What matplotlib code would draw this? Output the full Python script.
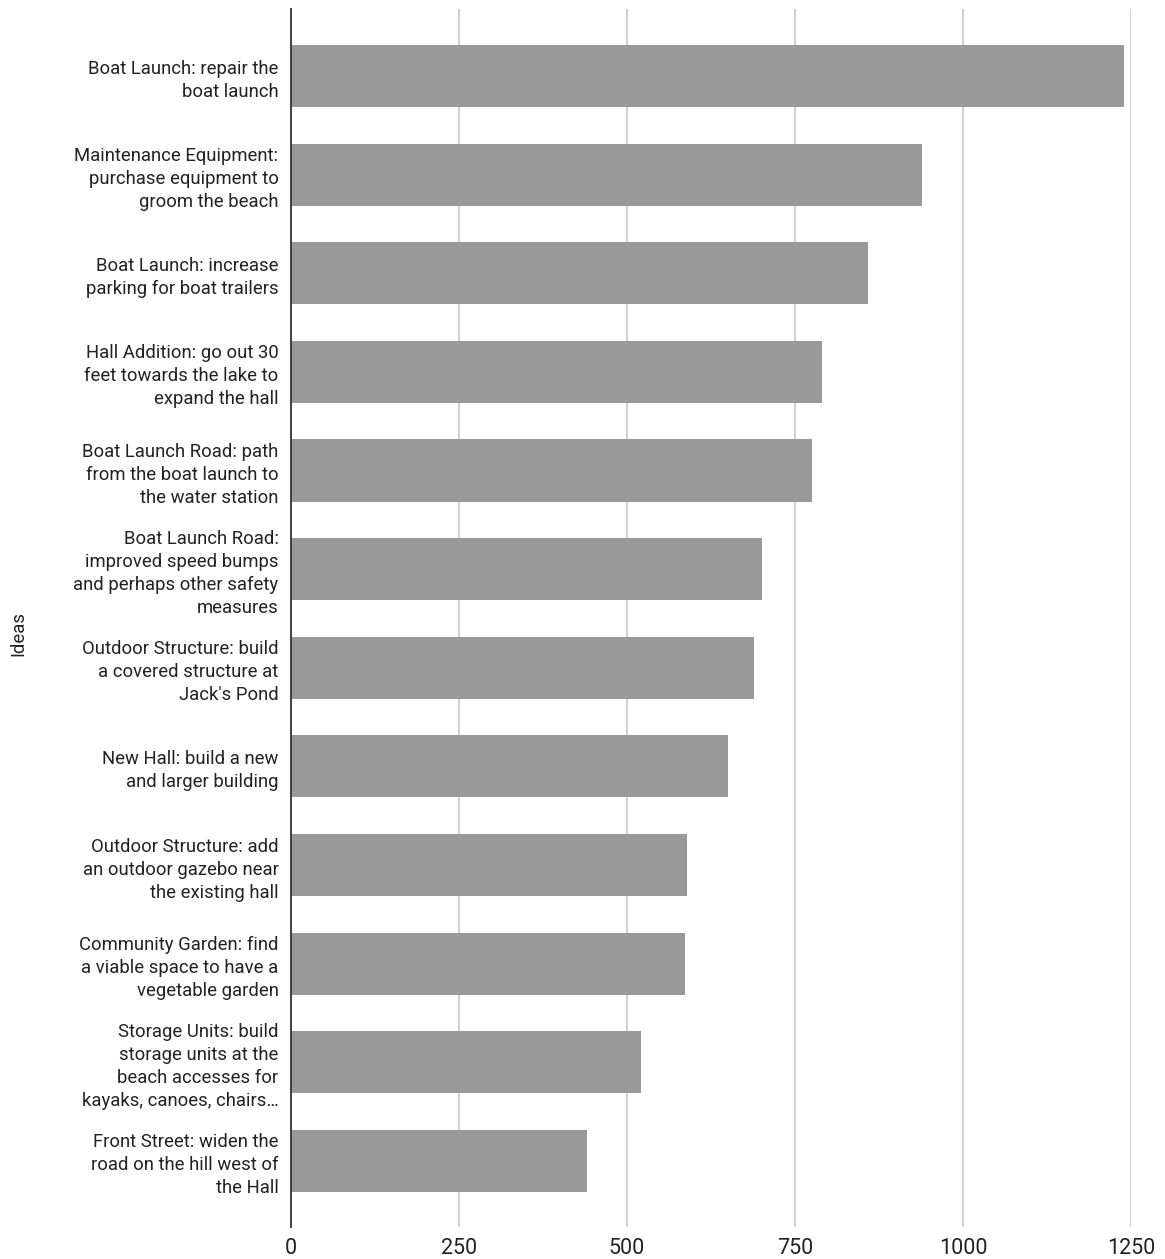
import matplotlib.pyplot as plt

# category labels (top to bottom) and values
ideas = [
    "Boat Launch: repair the\nboat launch",
    "Maintenance Equipment:\npurchase equipment to\ngroom the beach",
    "Boat Launch: increase\nparking for boat trailers",
    "Hall Addition: go out 30\nfeet towards the lake to\nexpand the hall",
    "Boat Launch Road: path\nfrom the boat launch to\nthe water station",
    "Boat Launch Road:\nimproved speed bumps\nand perhaps other safety\nmeasures",
    "Outdoor Structure: build\na covered structure at\nJack's Pond",
    "New Hall: build a new\nand larger building",
    "Outdoor Structure: add\nan outdoor gazebo near\nthe existing hall",
    "Community Garden: find\na viable space to have a\nvegetable garden",
    "Storage Units: build\nstorage units at the\nbeach accesses for\nkayaks, canoes, chairs\u2026",
    "Front Street: widen the\nroad on the hill west of\nthe Hall",
]
votes = [1239, 939, 859, 790, 776, 701, 689, 651, 590, 587, 521, 441]
xticks = [0, 250, 500, 750, 1000, 1250]

plt.rcParams['font.family'] = ['Roboto', 'DejaVu Sans']

fig = plt.figure(figsize=(11.65, 12.59), dpi=100)
ax = fig.add_axes([291 / 1165, 1 - 1227 / 1259, 840 / 1165, 1218 / 1259])

pos = list(range(len(ideas)))
ax.barh(pos, votes, height=0.63, color='#999999', zorder=2)

ax.set_xlim(0, 1250)
ax.set_ylim(len(ideas) - 0.33, -0.68)
ax.set_xticks(xticks)
ax.set_xticklabels([str(t) for t in xticks], fontsize=15.5, color='#222222')
ax.set_yticks(pos)
ax.set_yticklabels(ideas, fontsize=13.3, color='#222222', linespacing=1.36)
ax.tick_params(axis='both', length=0)
ax.tick_params(axis='y', pad=9)
ax.tick_params(axis='x', pad=8)

ax.grid(axis='x', color='#cccccc', linewidth=1.3, zorder=0)
for s in ['top', 'right', 'bottom']:
    ax.spines[s].set_visible(False)
ax.spines['left'].set_color('#333333')
ax.spines['left'].set_linewidth(1.3)
ax.spines['left'].set_zorder(3)

fig.text(18 / 1165, 1 - 633 / 1259, 'Ideas', rotation=90, fontsize=13.3,
         color='#222222', ha='center', va='center')

fig.savefig('out.png', dpi=100)
